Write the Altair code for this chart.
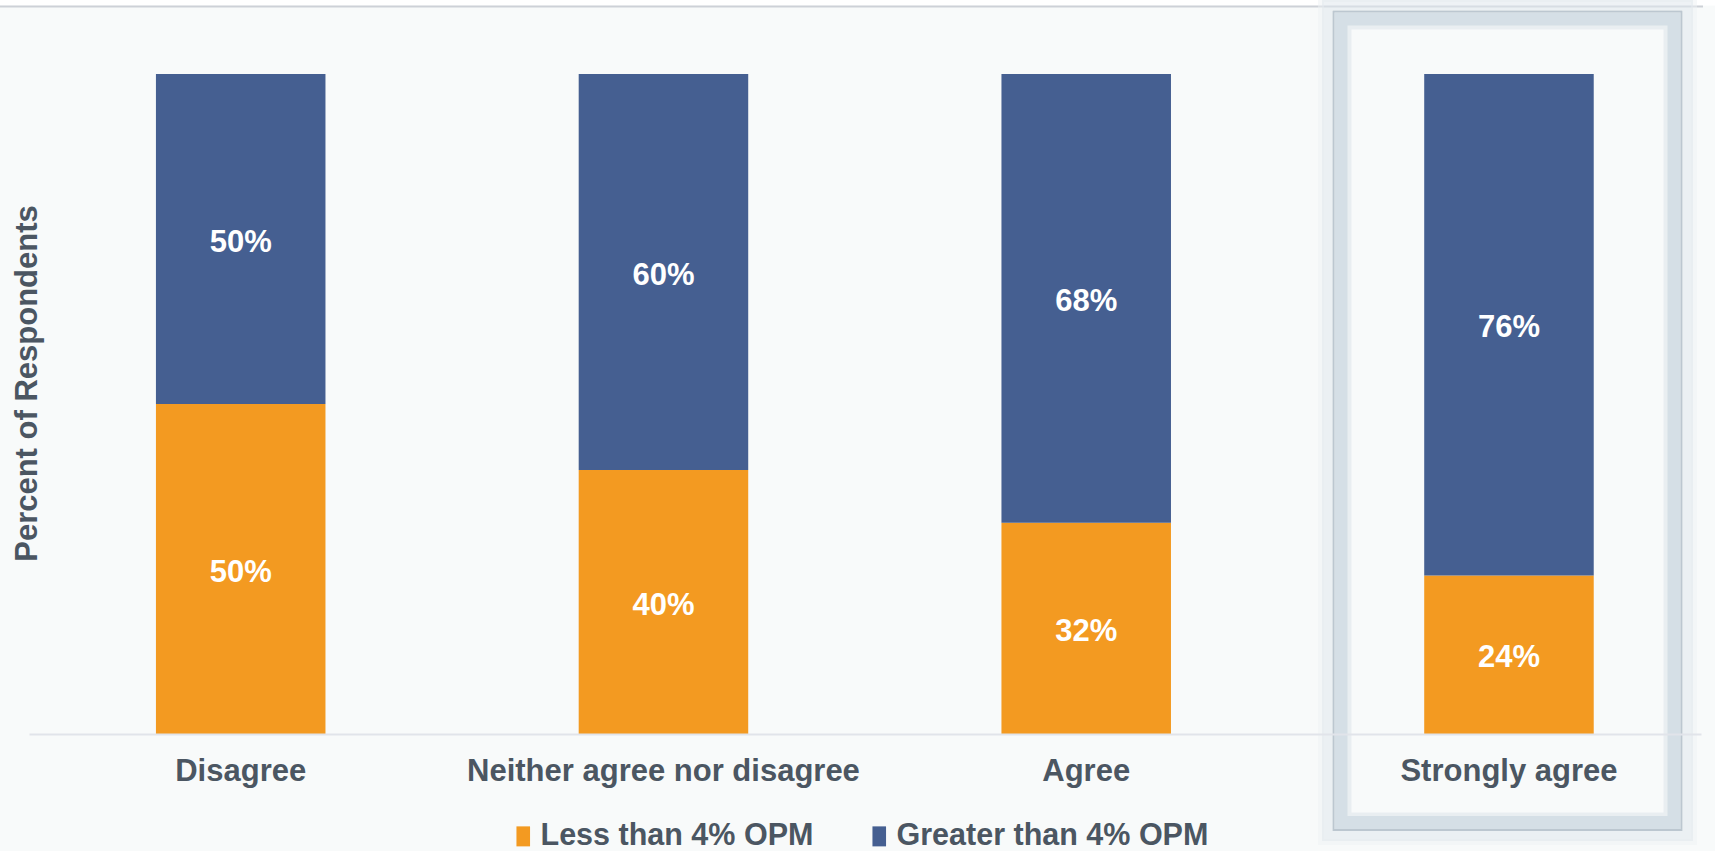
import altair as alt
import pandas as pd

# ---- data ----
categories = ["Disagree", "Neither agree nor disagree", "Agree", "Strongly agree"]
less_than_4 = [50, 40, 32, 24]
greater_than_4 = [50, 60, 68, 76]
series_names = ["Less than 4% OPM", "Greater than 4% OPM"]
series_colors = ["#F39A21", "#455F91"]

rows = []
for c, lo, hi in zip(categories, less_than_4, greater_than_4):
    rows.append({"cat": c, "series": series_names[0], "ord": 0, "value": lo / 100,
                 "mid": lo / 200, "label": f"{lo}%"})
    rows.append({"cat": c, "series": series_names[1], "ord": 1, "value": hi / 100,
                 "mid": lo / 100 + hi / 200, "label": f"{hi}%"})
df = pd.DataFrame(rows)
one = pd.DataFrame({"k": [0]})

TEXT = "#4B5662"
FONT = "Liberation Sans"

y_axis = alt.Axis(title="Percent of Respondents", labels=False, ticks=False, domain=False,
                  grid=False, titleFont=FONT, titleFontSize=31, titleFontWeight="bold",
                  titleColor=TEXT, titleAngle=270, titleX=7, titleY=309,
                  titleAlign="center", titleBaseline="alphabetic")
y_scale = alt.Scale(domain=[0, 1], nice=False)

x_enc = alt.X("cat:N", sort=categories,
              scale=alt.Scale(domain=categories, paddingInner=0.599, paddingOuter=0.277, align=0.542),
              axis=alt.Axis(title=None, labelFont=FONT, labelFontSize=31, labelFontWeight="bold",
                            labelColor=TEXT, labelPadding=22, ticks=False, domainColor="#E1E4EA",
                            domainWidth=2, labelAngle=0, zindex=1, labelLimit=600))

bars = alt.Chart(df).mark_bar().encode(
    x=x_enc,
    y=alt.Y("value:Q", stack="zero", scale=y_scale, axis=y_axis),
    order=alt.Order("ord:Q"),
    color=alt.Color("series:N", scale=alt.Scale(domain=series_names, range=series_colors),
                    legend=alt.Legend(orient="none", legendX=479, legendY=747, direction="horizontal",
                                      title=None, symbolType="M-0.68,-1H0.68V1H-0.68Z", symbolSize=400,
                                      labelFont=FONT, labelFontSize=30.5, labelFontWeight="bold",
                                      labelColor=TEXT, labelOffset=2, columnPadding=50, padding=0,
                                      symbolStrokeWidth=0, symbolOpacity=1, labelLimit=600)),
)

labels = alt.Chart(df).mark_text(color="white", fontSize=31, fontWeight="bold", font=FONT,
                                 baseline="middle", dy=3.5).encode(
    x=alt.X("cat:N", sort=categories),
    y=alt.Y("mid:Q", scale=y_scale, axis=y_axis),
    text="label:N",
)

# ---- decoration: top strip & line, highlight frame ----
strip = alt.Chart(one).mark_rect(color="white").encode(
    x=alt.value(-29), x2=alt.value(1686), y=alt.value(-74), y2=alt.value(-68.5))
topline = alt.Chart(one).mark_rule(color="#CDD1D7", strokeWidth=2).encode(
    x=alt.value(-29), x2=alt.value(1674), y=alt.value(-67.5))


def frame(x0, x1, y0, y1, color, width, opacity=1.0):
    return alt.Chart(one).mark_rect(filled=False, stroke=color, strokeWidth=width,
                                    strokeOpacity=opacity).encode(
        x=alt.value(x0), x2=alt.value(x1), y=alt.value(y0), y2=alt.value(y1))


box = [
    frame(1292, 1665, -75, 768, "#EDF1F3", 6, 0.5),
    frame(1298, 1659, -69, 762, "#E0E7EC", 10, 0.55),
    frame(1320, 1637, -47, 741, "#E9EEF1", 5),
    frame(1312, 1645, -55, 748.5, "#D5DFE6", 13),
    frame(1304.5, 1652.5, -62.5, 756, "#BCC7D0", 2),
]

chart = alt.layer(strip, topline, *box, bars, labels).properties(
    width=1672, height=660,
    padding={"left": 29, "top": 74, "right": 14, "bottom": 117},
    autosize=alt.AutoSizeParams(type="none"),
    background="#F8FAFA",
).configure_view(strokeWidth=0)

chart.save("out.html", embed_options={"renderer": "svg", "actions": False})
